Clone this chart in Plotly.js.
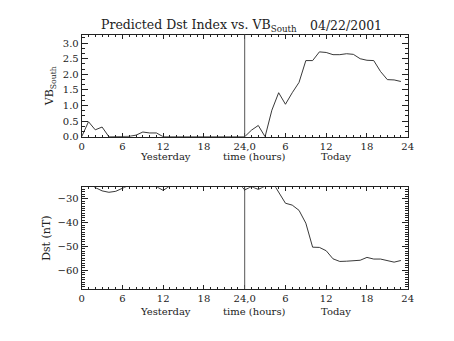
<!DOCTYPE html>
<html>
<head>
<meta charset="utf-8">
<script src="https://cdn.plot.ly/plotly-3.0.1.min.js"></script>
<style>html,body{margin:0;padding:0;background:#fff;}#chart{width:454px;height:341px;}</style>
</head>
<body>
<div id="chart"></div>
<script>
// Hours: 0-23 = yesterday, 24-47 = today
const hours = [0,1,2,3,4,5,6,7,8,9,10,11,12,13,14,15,16,17,18,19,20,21,22,23,
               24,25,26,27,28,29,30,31,32,33,34,35,36,37,38,39,40,41,42,43,44,45,46,47];
const vbSouth = [0,0.48,0.22,0.31,0,0,0,0.01,0.05,0.15,0.12,0.12,0,0,0,0,0,0,0,0,0,0,0,0,
                 0,0.21,0.36,0,0.85,1.41,1.04,1.41,1.74,2.44,2.44,2.72,2.70,2.63,2.63,2.66,2.64,2.50,2.45,2.44,2.09,1.83,1.82,1.77];
const dst = [-23,-23.5,-25.2,-26.6,-27.2,-26.8,-25.5,-24,-23,-23,-23.5,-24.8,-26.4,-24.5,-23,-23,-23,-23,-23,-23,-23,-23,-23,-23,
             -26.2,-24.8,-26.0,-24.6,-22.5,-27.0,-31.8,-32.6,-34.8,-40.2,-50.3,-50.4,-51.8,-55.2,-56.3,-56.2,-55.9,-55.8,-54.6,-55.3,-55.3,-55.9,-56.6,-55.9];
const xTickVals = [0,6,12,18,24,30,36,42,48];
const xTickText = ["0","6","12","18","24,0","6","12","18","24"];
const dayBoundary = 24;
const dayLabels = ["Yesterday","time (hours)","Today"];
const dayLabelPos = [12.3, 25.4, 37.4];
const titleMain = "Predicted Dst Index vs. VB<sub>South</sub>";
const titleDate = "04/22/2001";

const W = 454, H = 341;
const px = v => v / W, py = v => 1 - v / H;
const ink = "#222";
const font = {family: "DejaVu Serif", size: 10, color: ink};

const xBase = {
  range: [0, 48], tickvals: xTickVals, ticktext: xTickText, ticks: "inside", ticklen: 4,
  mirror: "ticks", showline: true, linecolor: ink, linewidth: 1, tickcolor: ink,
  showgrid: false, zeroline: false, tickfont: {family: "DejaVu Serif", size: 10, color: ink},
  minor: {dtick: 1, ticks: "inside", ticklen: 2, tickcolor: ink, showgrid: false},
  domain: [px(81.7), px(407.7)], fixedrange: true
};
const yBase = {
  ticks: "inside", ticklen: 6, mirror: "ticks", showline: true, linecolor: ink, linewidth: 1,
  tickcolor: ink, showgrid: false, zeroline: false,
  tickfont: {family: "DejaVu Serif", size: 10, color: ink}
};

const traces = [
  {x: hours, y: vbSouth, xaxis: "x", yaxis: "y", mode: "lines", line: {color: ink, width: 0.9}, hoverinfo: "skip"},
  {x: hours, y: dst, xaxis: "x2", yaxis: "y2", mode: "lines", line: {color: ink, width: 0.9}, hoverinfo: "skip"}
];

const annotations = [
  {text: titleMain, xref: "paper", yref: "paper", x: px(99), y: py(25), xanchor: "left", yanchor: "middle", showarrow: false, font: {family: "DejaVu Serif", size: 12.5, color: ink}},
  {text: titleDate, xref: "paper", yref: "paper", x: px(308), y: py(25), xanchor: "left", yanchor: "middle", showarrow: false, font: {family: "DejaVu Serif", size: 12.5, color: ink}}
];
dayLabels.forEach((t, i) => {
  annotations.push({text: t, xref: "x", yref: "paper", x: dayLabelPos[i], y: py(156), yanchor: "middle", showarrow: false, font: font});
  annotations.push({text: t, xref: "x2", yref: "paper", x: dayLabelPos[i], y: py(311.5), yanchor: "middle", showarrow: false, font: font});
});

const layout = {
  width: W, height: H, margin: {l: 0, r: 0, t: 0, b: 0}, showlegend: false,
  paper_bgcolor: "#fff", plot_bgcolor: "#fff", font: font,
  xaxis: Object.assign({}, xBase, {anchor: "y"}),
  yaxis: Object.assign({}, yBase, {anchor: "x", domain: [py(136.7), py(34.7)], range: [0, 3.27],
    tickvals: [0, 0.5, 1, 1.5, 2, 2.5, 3], tickformat: ".1f",
    minor: {dtick: 0.5/3, tick0: 0, ticks: "inside", ticklen: 3, tickcolor: ink, showgrid: false},
    title: {text: "VB<sub>South</sub>", font: {family: "DejaVu Serif", size: 11, color: ink}, standoff: 6}}),
  xaxis2: Object.assign({}, xBase, {anchor: "y2"}),
  yaxis2: Object.assign({}, yBase, {anchor: "x2", domain: [py(289), py(187.3)], range: [-67.9, -25.1],
    tickvals: [-30, -40, -50, -60],
    minor: {dtick: 1, ticks: "inside", ticklen: 3, tickcolor: ink, showgrid: false},
    title: {text: "Dst (nT)", font: {family: "DejaVu Serif", size: 11, color: ink}, standoff: 4}}),
  shapes: [
    {type: "line", xref: "x", yref: "y domain", x0: dayBoundary, x1: dayBoundary, y0: 0, y1: 1, line: {color: "#555", width: 1}},
    {type: "line", xref: "x2", yref: "y2 domain", x0: dayBoundary, x1: dayBoundary, y0: 0, y1: 1, line: {color: "#555", width: 1}}
  ],
  annotations: annotations
};

Plotly.newPlot("chart", traces, layout, {staticPlot: true, displayModeBar: false});
</script>
</body>
</html>
